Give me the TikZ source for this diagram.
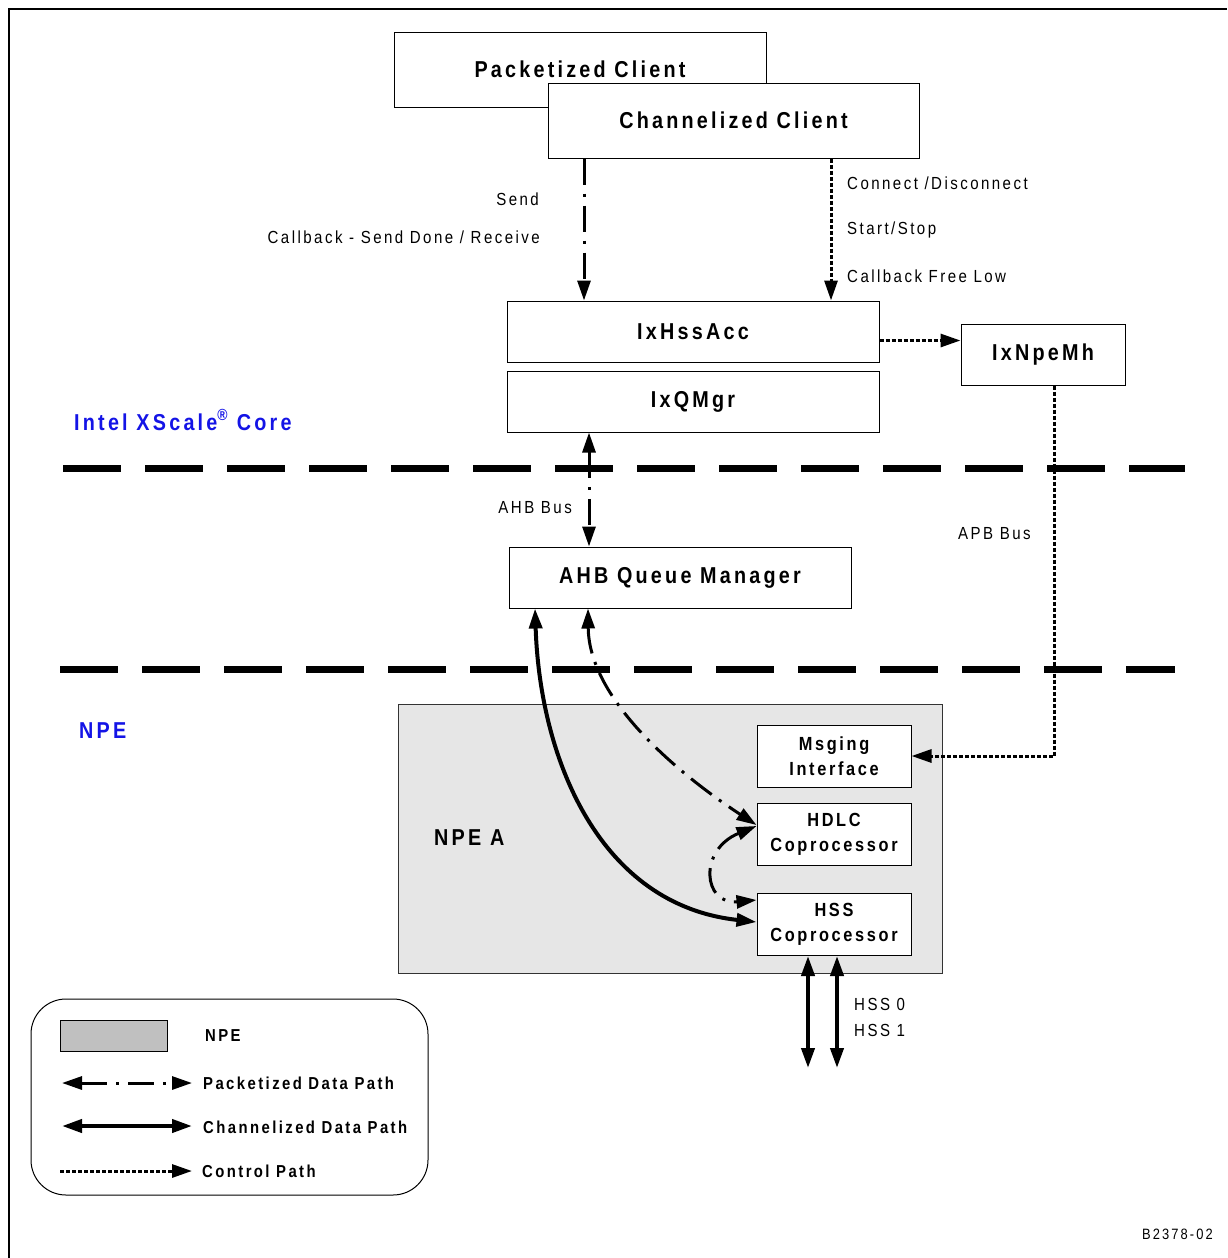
\documentclass[tikz,border=0pt]{standalone}
\usepackage{fontspec}
\setmainfont{Liberation Sans}
\newfontfamily\wide[LetterSpace=14,FakeStretch=0.86]{Liberation Sans}
\usetikzlibrary{arrows.meta}
\definecolor{npegray}{HTML}{E6E6E6}
\definecolor{swatchgray}{HTML}{C0C0C0}
\definecolor{xblue}{HTML}{1414E6}
\begin{document}
\begin{tikzpicture}[x=1pt,y=-1pt,
  box/.style={draw, line width=1pt, fill=white, inner sep=0pt, align=center,
    font=\wide\bfseries\fontsize{23}{25}\selectfont},
  npebox/.style={draw, line width=1pt, fill=white, inner sep=0pt, align=center,
    minimum width=154pt, minimum height=62pt,
    font=\wide\bfseries\fontsize{19}{25}\selectfont},
  lbl/.style={inner sep=0pt, font=\wide\fontsize{17.5}{20}\selectfont},
  leglbl/.style={inner sep=0pt, anchor=west, font=\wide\bfseries\fontsize{17.3}{20}\selectfont},
  area/.style={inner sep=0pt, anchor=west, text=xblue, font=\wide\bfseries\fontsize{23}{26}\selectfont},
  tip/.style={-{Triangle[length=20pt,width=13pt]}},
  bothtips/.style={{Triangle[length=20pt,width=13pt]}-{Triangle[length=20pt,width=13pt]}},
  pkt/.style={line width=3pt, dash pattern=on 26pt off 9pt on 3pt off 9pt},
  ctl/.style={line width=3pt, dash pattern=on 4pt off 2pt},
  chan/.style={line width=4pt},
  sep/.style={line width=7pt, dash pattern=on 58pt off 24pt}
]
\useasboundingbox (0,0) rectangle (1227,1258);

% frame
\draw[line width=2.5pt] (9,1258) -- (9,9) -- (1227,9);

% clients
\node[box, minimum width=372pt, minimum height=75pt] (pc) at (580,69.5) {Packetized Client};
\node[box, minimum width=371pt, minimum height=75pt] (cc) at (733.5,120.5) {Channelized Client};

% access layer
\node[box, minimum width=372pt, minimum height=61pt] (hssacc) at (693,331.5) {IxHssAcc};
\node[box, minimum width=372pt, minimum height=61pt] (qmgr) at (693,401.5) {IxQMgr};
\node[box, minimum width=164pt, minimum height=61pt] (npemh) at (1043,354.5) {IxNpeMh};

% region separators and names
\draw[sep] (63,468) -- (1185,468);
\draw[sep] (60,669) -- (1175,669);
\node[area] (xs) at (74,420) {Intel XScale\textsuperscript{®} Core};
\node[area] (npe) at (79,731) {NPE};

% queue manager
\node[box, minimum width=342pt, minimum height=61pt] (ahbqm) at (680,577.5) {AHB Queue Manager};

% NPE A
\node[draw=black!80, line width=1pt, fill=npegray, minimum width=544pt, minimum height=269pt] (npea) at (670,838.5) {};
\node[inner sep=0pt, anchor=west, font=\wide\bfseries\fontsize{23}{26}\selectfont] (npealbl) at (434,838) {NPE A};
\node[npebox] (msg) at (834,756) {Msging\\Interface};
\node[npebox] (hdlc) at (834,834) {HDLC\\Coprocessor};
\node[npebox] (hssc) at (834,924.5) {HSS\\Coprocessor};

% client paths
\coordinate (sendx) at (584,0);
\coordinate (ctlx) at (831,0);
\coordinate (ahbx) at (589,0);
\draw[pkt, tip] (cc.south -| sendx) -- (hssacc.north -| sendx);
\draw[ctl, tip] (cc.south -| ctlx) -- (hssacc.north -| ctlx);
\node[lbl, anchor=east] (lsend) at (539,199) {Send};
\node[lbl, anchor=east] (lcb) at (540,237) {Callback - Send Done / Receive};
\node[lbl, anchor=west] (lconn) at (847,183) {Connect /Disconnect};
\node[lbl, anchor=west] (lss) at (847,230) {Start/Stop};
\node[lbl, anchor=west] (lfree) at (847,276) {Callback Free Low};

% message handler paths
\draw[ctl, tip] (hssacc.east |- npemh.west) ++(0,-14) coordinate (mhs) -- (npemh.west |- mhs);
\draw[ctl, tip] (npemh.south) ++(11,0) |- (msg.east);
\node[lbl, anchor=west] (lapb) at (958,534) {APB Bus};

% AHB bus
\draw[pkt, bothtips] (qmgr.south -| ahbx) -- (ahbqm.north -| ahbx);
\node[lbl, anchor=east] (lahb) at (572,508) {AHB Bus};

% data paths into the NPE
\coordinate (chtop) at (535,0);
\coordinate (pktop) at (588,0);
\draw[chan, bothtips] (ahbqm.south -| chtop) .. controls (540,760) and (600,905) .. (hssc.west |- 0,922);
\draw[pkt, bothtips] (ahbqm.south -| pktop) .. controls (589,700) and (680,775) .. (hdlc.west |- 0,825);
\draw[pkt, bothtips] (hdlc.west |- 0,826) .. controls (698,850) and (703,905) .. (hssc.west |- 0,900);

% HSS ports
\coordinate (hss0) at (808,1068);
\coordinate (hss1) at (837,1068);
\draw[chan, bothtips] (hssc.south -| hss0) -- (hss0);
\draw[chan, bothtips] (hssc.south -| hss1) -- (hss1);
\node[lbl, anchor=west] (lh0) at (854,1004) {HSS 0};
\node[lbl, anchor=west] (lh1) at (854,1030) {HSS 1};

% legend
\node[draw, line width=1pt, rounded corners=35pt, minimum width=397pt, minimum height=196pt] (legend) at (229.5,1097) {};
\node[draw, line width=1pt, fill=swatchgray, minimum width=107pt, minimum height=31pt] (sw) at (113.5,1035.5) {};
\node[leglbl] (lnpe) at (205,1036) {NPE};
\coordinate (pa) at (62,1083);  \coordinate (pb) at (192,1083);
\coordinate (ca) at (62,1126);  \coordinate (cb) at (192,1126);
\coordinate (ta) at (60,1171);  \coordinate (tb) at (192,1171);
\draw[pkt, bothtips] (pa) -- (pb);
\draw[chan, bothtips] (ca) -- (cb);
\draw[ctl, tip] (ta) -- (tb);
\node[leglbl] (lp) at (203,1083) {Packetized Data Path};
\node[leglbl] (lc) at (203,1127) {Channelized Data Path};
\node[leglbl] (lt) at (202,1171) {Control Path};

% figure number
\node[inner sep=0pt, anchor=east, font=\wide\fontsize{15}{18}\selectfont] (fig) at (1213,1234) {B2378-02};
\end{tikzpicture}
\end{document}
